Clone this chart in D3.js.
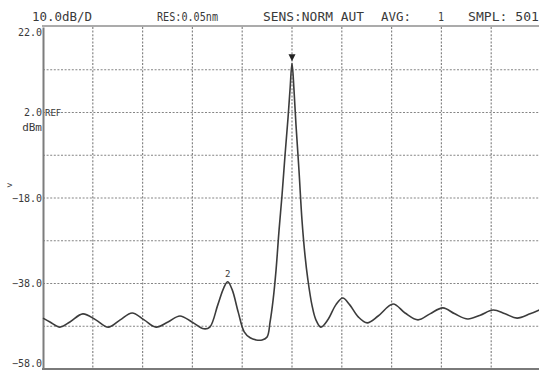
<!DOCTYPE html>
<html>
<head>
<meta charset="utf-8">
<script src="https://cdn.jsdelivr.net/npm/d3@7"></script>
<style>
  html, body { margin: 0; padding: 0; background: #fff; }
  svg { display: block; }
  text { font-family: "DejaVu Sans Mono", "Liberation Mono", monospace; fill: #3a3a3a; }
</style>
</head>
<body>
<svg id="chart" width="539" height="372"></svg>
<script>
// ---- data ----
// horizontal position in screen divisions (0..10), level in dBm
const traceDiv = [0.00,0.14,0.34,0.54,0.80,1.06,1.31,1.55,1.79,2.03,2.27,2.51,2.75,2.99,3.23,3.35,3.51,3.63,3.71,3.80,3.92,4.04,4.16,4.28,4.40,4.50,4.56,4.62,4.68,4.74,4.80,4.86,4.92,4.96,5.00,5.04,5.08,5.14,5.20,5.26,5.32,5.40,5.48,5.58,5.72,5.88,6.02,6.16,6.33,6.51,6.73,7.03,7.27,7.53,7.77,8.03,8.27,8.53,8.78,9.04,9.28,9.52,9.78,10.00];
const traceDbm = [-46.1,-47.0,-48.2,-47.0,-45.1,-46.5,-48.2,-46.5,-44.9,-46.5,-48.2,-47.0,-45.6,-47.0,-48.6,-48.2,-43.0,-39.0,-37.6,-39.5,-44.7,-49.3,-50.7,-51.2,-51.2,-50.5,-47.0,-41.9,-34.8,-25.5,-17.3,-8.0,0.7,7.3,13.5,7.3,-0.9,-11.5,-23.1,-31.3,-37.2,-43.0,-46.5,-48.2,-46.5,-43.0,-41.4,-43.0,-45.8,-47.2,-45.6,-42.8,-44.9,-46.5,-45.1,-43.7,-45.1,-46.3,-45.4,-44.2,-45.1,-46.1,-45.1,-44.0];
const yTickValues = [22, 2, -18, -38, -58];
const yGridValues = [12, 2, -8, -18, -28, -38, -48];
const xGridValues = [1, 2, 3, 4, 5, 6, 7, 8, 9];
const headerLabels = ["10.0dB/D", "RES:0.05nm", "SENS:NORM AUT", "AVG:", "1", "SMPL: 501"];
const headerX = [32, 157, 263, 381, 438, 468];
const headerW = [60, 61, 101, 30, 6, 71];
const mainPeak = {div: 5.00, dbm: 13.5};
const subPeak = {div: 3.71, dbm: -37.6, label: "2"};

// ---- layout ----
const svg = d3.select("#chart");
const pLeft = 43, pRight = 541, pTop = 27, pBottom = 369;
const x = d3.scaleLinear().domain([0, 10]).range([pLeft, pRight]);
const y = d3.scaleLinear().domain([-58, 22]).range([pBottom, pTop]);

// grid
svg.append("g").selectAll("line").data(yGridValues).join("line")
  .attr("x1", pLeft).attr("x2", 539)
  .attr("y1", d => y(d)).attr("y2", d => y(d))
  .attr("stroke", "#858585").attr("stroke-width", 1.2).attr("stroke-dasharray", "2,1.6");
svg.append("g").selectAll("line").data(xGridValues).join("line")
  .attr("x1", d => x(d)).attr("x2", d => x(d))
  .attr("y1", pTop).attr("y2", pBottom)
  .attr("stroke", "#858585").attr("stroke-width", 1.2).attr("stroke-dasharray", "2,1.6");

// frame
svg.append("line").attr("x1", pLeft - 1).attr("x2", 539).attr("y1", pTop - 1).attr("y2", pTop - 1)
  .attr("stroke", "#8f8f8f").attr("stroke-width", 1.5);
svg.append("line").attr("x1", pLeft - 1).attr("x2", 539).attr("y1", pBottom).attr("y2", pBottom)
  .attr("stroke", "#7a7a7a").attr("stroke-width", 2);

// left axis
const yAxis = d3.axisLeft(y).tickValues(yTickValues).tickSize(0).tickPadding(1)
  .tickFormat(d3.format(".1f"));
const ag = svg.append("g").attr("transform", `translate(${pLeft},0)`).call(yAxis);
ag.select(".domain").attr("stroke", "#7d7d7d").attr("stroke-width", 2);
ag.selectAll(".tick text")
  .style("font-family", "'DejaVu Sans Mono', monospace")
  .style("font-size", "10px")
  .attr("fill", "#444")
  .attr("dy", d => d === 22 ? "0.85em" : d === -58 ? "-0.25em" : "0.32em");

// extra left texts
svg.append("text").attr("x", 45).attr("y", 116).text("REF")
  .style("font-size", "9px").attr("fill", "#777");
svg.append("text").attr("x", 42).attr("y", 131).attr("text-anchor", "end").text("dBm")
  .style("font-size", "11px").attr("fill", "#444");
svg.append("text").attr("x", 7).attr("y", 188).text(">").style("font-size", "9px");

// header
svg.append("g").selectAll("text").data(headerLabels).join("text")
  .attr("x", (d, i) => headerX[i]).attr("y", 21)
  .attr("textLength", (d, i) => headerW[i]).attr("lengthAdjust", "spacingAndGlyphs")
  .style("font-size", "13px")
  .text(d => d);

// trace
const pts = traceDiv.map((d, i) => [d, traceDbm[i]]);
const line = d3.line().x(d => x(d[0])).y(d => y(d[1])).curve(d3.curveCatmullRom.alpha(0.5));
svg.append("path").datum(pts).attr("d", line)
  .attr("fill", "none").attr("stroke", "#3c3c3c").attr("stroke-width", 1.6);

// markers
const mx = x(mainPeak.div), my = y(mainPeak.dbm);
svg.append("path")
  .attr("d", `M${mx - 3.5},${my - 9} L${mx + 3.5},${my - 9} L${mx},${my - 2} Z`)
  .attr("fill", "#222");
svg.append("text").attr("x", x(subPeak.div)).attr("y", y(subPeak.dbm) - 5)
  .attr("text-anchor", "middle").style("font-size", "9px").attr("fill", "#555")
  .text(subPeak.label);
</script>
</body>
</html>
